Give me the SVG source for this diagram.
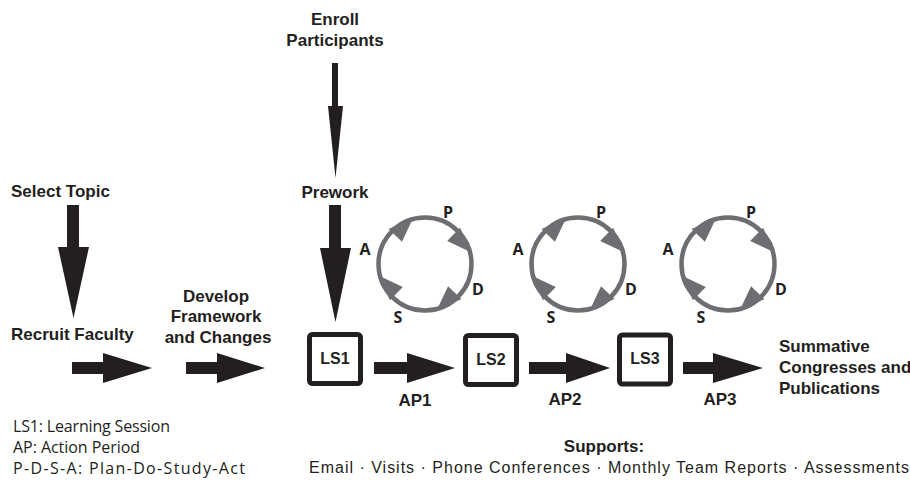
<svg xmlns="http://www.w3.org/2000/svg" xmlns:xlink="http://www.w3.org/1999/xlink" width="910" height="481" viewBox="0 0 910 481">
<style>
.lbl{font-family:"Liberation Sans",Arial,sans-serif;font-weight:bold;font-size:17px;fill:#231f20}
.mid{text-anchor:middle}
.box{fill:#fff;stroke:#231f20;stroke-width:5}
.boxt{font-family:"Liberation Sans",Arial,sans-serif;font-weight:bold;font-size:16px;fill:#231f20;text-anchor:middle}
.arr{fill:#231f20}
.cyc{fill:none;stroke:#6d6e71;stroke-width:4.5}
.barb{fill:#6d6e71}
.pdsa{font-family:"Open Sans","Liberation Sans",Arial,sans-serif;font-weight:bold;font-size:16px;fill:#231f20;text-anchor:middle}
.leg{font-family:"Open Sans","Liberation Sans",Arial,sans-serif;font-size:16px;fill:#231f20}
.sup{font-family:"Liberation Sans",Arial,sans-serif;font-size:16px;fill:#231f20}
</style>
<defs>
<polygon id="barb" points="48,0 42.8,-26.8 27.1,-17"/>
<g id="cycle">
<circle class="cyc" cx="0" cy="0" r="46.5"/>
<use xlink:href="#barb" class="barb" transform="rotate(-104)"/>
<use xlink:href="#barb" class="barb" transform="rotate(-14)"/>
<use xlink:href="#barb" class="barb" transform="rotate(76)"/>
<use xlink:href="#barb" class="barb" transform="rotate(166)"/>
<text class="pdsa" x="-60" y="-9">A</text>
<text class="pdsa" x="23" y="-46">P</text>
<text class="pdsa" x="53" y="31">D</text>
<text class="pdsa" x="-27" y="59">S</text>
</g>
</defs>

<g id="connectors">
<polygon class="arr" points="67,205 79,205 79,247 89,247 73.5,318 58,247 67,247"/>
<polygon class="arr" points="332,63 338,63 338,106 343,106 335.5,178 328,106 332,106"/>
<polygon class="arr" points="329,205 341,205 341,248 351,248 335.5,322 320,248 329,248"/>
<polygon class="arr" points="72,362 103,362 103,353 152,368 103,383 103,374 72,374"/>
<polygon class="arr" points="186,362 217,362 217,353 265,368 217,383 217,374 186,374"/>
<polygon class="arr" points="374,362 407,362 407,353 455,368 407,383 407,374 374,374"/>
<polygon class="arr" points="529,362 566,362 566,353 610,368 566,383 566,374 529,374"/>
<polygon class="arr" points="683,362 713,362 713,353 763,368 713,383 713,374 683,374"/>
</g>

<g id="select-topic"><text class="lbl" x="11" y="197">Select Topic</text></g>
<g id="recruit-faculty"><text class="lbl" x="11" y="340">Recruit Faculty</text></g>
<g id="develop"><text class="lbl mid" x="216" y="302">Develop</text><text class="lbl mid" x="216" y="322">Framework</text><text class="lbl mid" x="218" y="343">and Changes</text></g>
<g id="enroll"><text class="lbl mid" x="335" y="25">Enroll</text><text class="lbl mid" x="335" y="46">Participants</text></g>
<g id="prework"><text class="lbl mid" x="335" y="198">Prework</text></g>

<g id="ls1"><rect class="box" x="309.5" y="334.5" width="51" height="49" rx="3"/><text class="boxt" x="335" y="364">LS1</text></g>
<g id="ls2"><rect class="box" x="465.5" y="335.5" width="51" height="49" rx="3"/><text class="boxt" x="491" y="365">LS2</text></g>
<g id="ls3"><rect class="box" x="619.5" y="335" width="51" height="49" rx="3"/><text class="boxt" x="645" y="364">LS3</text></g>

<g id="pdsa1"><use xlink:href="#cycle" transform="translate(425,264)"/></g>
<g id="pdsa2"><use xlink:href="#cycle" transform="translate(578,264)"/></g>
<g id="pdsa3"><use xlink:href="#cycle" transform="translate(728,264)"/></g>

<g id="ap-labels"><text class="lbl mid" x="415" y="406">AP1</text><text class="lbl mid" x="565" y="405">AP2</text><text class="lbl mid" x="720" y="405">AP3</text></g>

<g id="summative"><text class="lbl" x="779" y="352">Summative</text><text class="lbl" x="779" y="373">Congresses and</text><text class="lbl" x="779" y="394">Publications</text></g>

<g id="legend">
<text class="leg" x="13" y="432" textLength="157" lengthAdjust="spacing">LS1: Learning Session</text>
<text class="leg" x="13" y="453" textLength="127" lengthAdjust="spacing">AP: Action Period</text>
<text class="leg" x="13" y="474" textLength="232" lengthAdjust="spacing">P-D-S-A: Plan-Do-Study-Act</text>
</g>

<g id="supports">
<text class="lbl mid" x="604" y="452">Supports:</text>
<text class="sup" x="309" y="473" textLength="600" lengthAdjust="spacing">Email · Visits · Phone Conferences · Monthly Team Reports · Assessments</text>
</g>
</svg>
